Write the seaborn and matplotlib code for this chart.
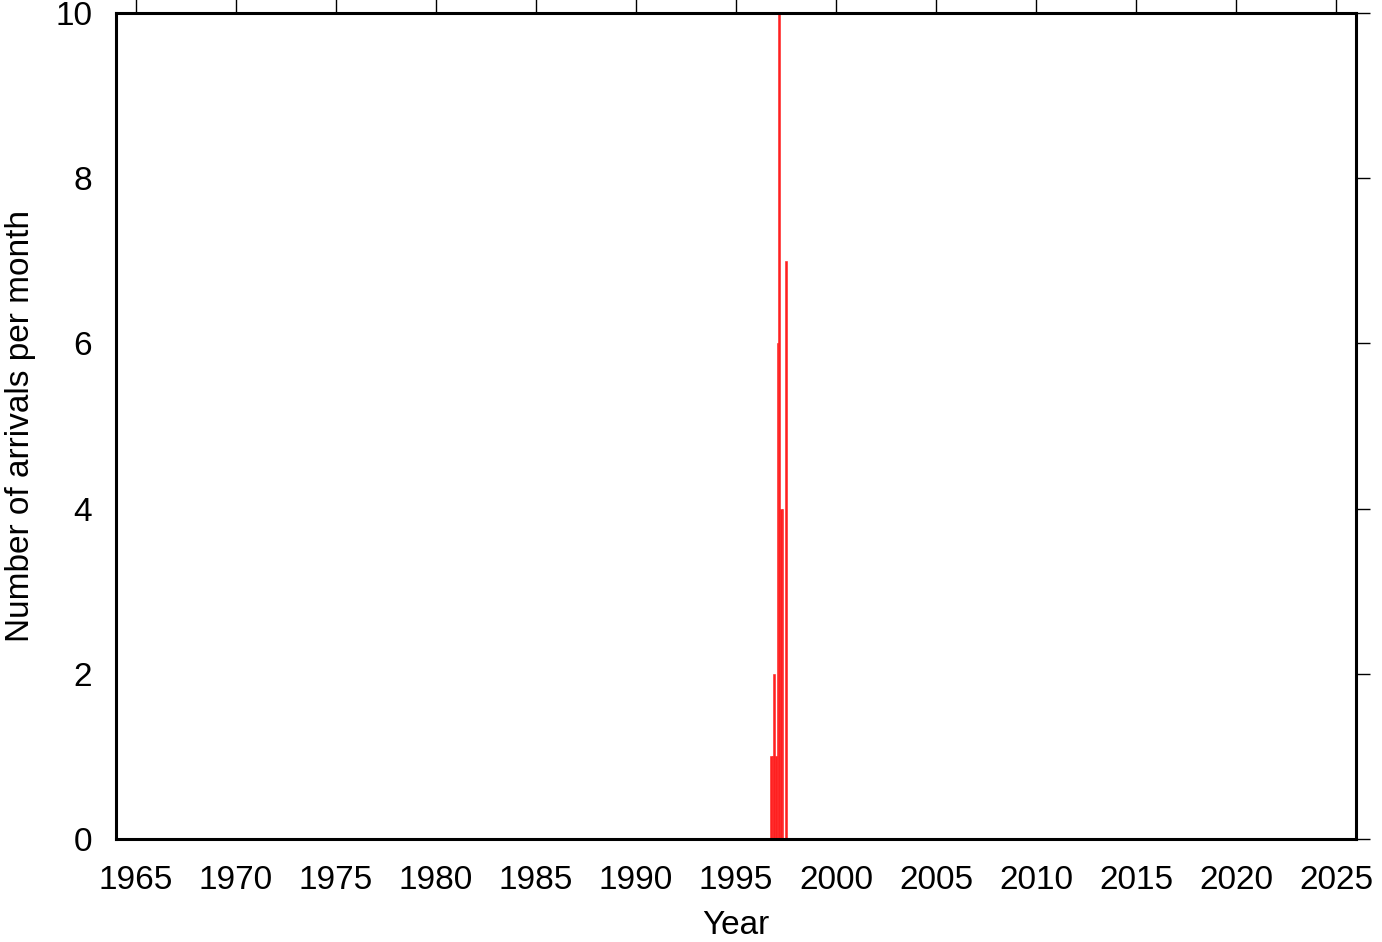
import matplotlib
matplotlib.use("Agg")
import matplotlib.pyplot as plt
import seaborn as sns
import numpy as np

# Monthly bins (decimal year of month start), Sep 1996 .. Jun 1997
month_start = [1996 + 8/12, 1996 + 9/12, 1996 + 10/12, 1996 + 11/12,
               1997 + 0/12, 1997 + 1/12, 1997 + 2/12, 1997 + 3/12,
               1997 + 4/12, 1997 + 5/12]
arrivals = [1, 1, 2, 1, 6, 10, 4, 4, 0, 7]
year_ticks = [1965, 1970, 1975, 1980, 1985, 1990, 1995, 2000, 2005, 2010, 2015, 2020, 2025]
y_ticks = [0, 2, 4, 6, 8, 10]

sns.set_style("white")
plt.rcParams['font.family'] = ['Liberation Sans', 'DejaVu Sans']
plt.rcParams['text.color'] = 'black'
plt.rcParams['axes.labelcolor'] = 'black'

fig = plt.figure(figsize=(13.82, 9.42), dpi=100)
ax = fig.add_axes([0.0839, 0.1093, 0.8973, 0.8769])

offset = 1/24
positions = [m + offset for m in month_start]
edges = positions + [positions[-1] + 1/12]
sns.histplot(x=positions, weights=arrivals, bins=edges, ax=ax,
             color="#ff2020", edgecolor="#ff2020", linewidth=0.4,
             alpha=1.0, element="bars")

ax.set_xlim(1964, 2026)
ax.set_ylim(0, 10)
ax.set_xticks(year_ticks)
ax.set_xticklabels([str(t) for t in year_ticks])
ax.set_yticks(y_ticks)
ax.set_yticklabels([str(t) for t in y_ticks])
ax.tick_params(axis='both', which='both', direction='out', length=10, width=1,
               labelsize=24, colors='black', top=True, right=True,
               labeltop=False, labelright=False)
ax.tick_params(axis='x', pad=9)
ax.tick_params(axis='y', pad=7)
for s in ax.spines.values():
    s.set_linewidth(2.2)
    s.set_color('black')
ax.set_xlabel("Year", fontsize=24, labelpad=10, color='black')
ax.set_ylabel("Number of arrivals per month", fontsize=24, labelpad=14, color='black')
ax.grid(False)

fig.savefig("out.png", dpi=100)
